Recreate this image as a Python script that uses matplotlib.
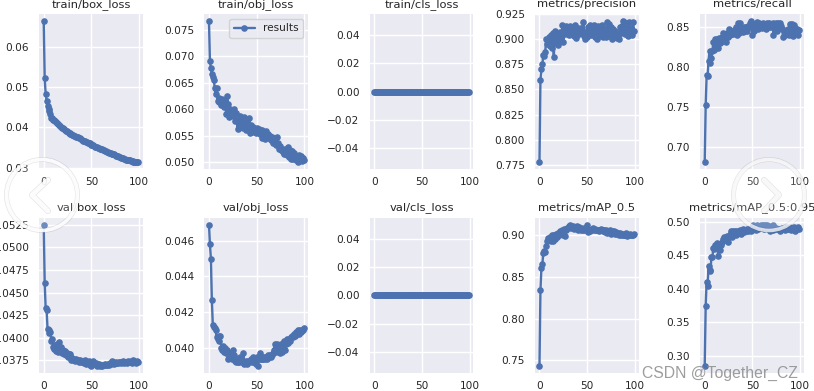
#!/usr/bin/env python3
"""
Training results grid (YOLO style), with the page watermark on top.
"""

import matplotlib
matplotlib.use("Agg")
import matplotlib.pyplot as plt
from matplotlib.patches import Circle
import numpy as np
import seaborn as sns

titles = [
    "train/box_loss", "train/obj_loss", "train/cls_loss", "metrics/precision", "metrics/recall",
    "val/box_loss", "val/obj_loss", "val/cls_loss", "metrics/mAP_0.5", "metrics/mAP_0.5:0.95",
]

epochs = np.arange(100)

train_box = [
    .0663, .0522, .0483, .0466, .0452, .0446, .0440, .0434, .0423, .0422,
    .0419, .0417, .0415, .0413, .0410, .0408, .0405, .0403, .0401, .0399,
    .0397, .0395, .0393, .0392, .0390, .0388, .0387, .0385, .0384, .0383,
    .0381, .0380, .0379, .0378, .0377, .0376, .0375, .0374, .0373, .0370,
    .0368, .0367, .0366, .0365, .0364, .0363, .0362, .0361, .0360, .0358,
    .0357, .0356, .0355, .0353, .0352, .0351, .0350, .0349, .0348, .0347,
    .0346, .0345, .0344, .0343, .0342, .0341, .0340, .0338, .0337, .0336,
    .0336, .0335, .0334, .0334, .0333, .0332, .0330, .0329, .0328, .0327,
    .0326, .0325, .0324, .0323, .0322, .0321, .0320, .0320, .0319, .0318,
    .0318, .0317, .0316, .0316, .0315, .0315, .0314, .0314, .0313, .0313,
]
train_obj = [
    .0767, .0691, .0678, .0666, .0660, .0655, .0641, .0629, .0640, .0615,
    .0622, .0613, .0618, .0608, .0620, .0612, .0605, .0615, .0590, .0624,
    .0610, .0585, .0601, .0596, .0598, .0587, .0600, .0578, .0592, .0580,
    .0562, .0575, .0587, .0570, .0583, .0572, .0565, .0585, .0570, .0560,
    .0578, .0565, .0583, .0555, .0570, .0556, .0566, .0558, .0560, .0555,
    .0565, .0558, .0562, .0552, .0557, .0560, .0545, .0556, .0550, .0543,
    .0558, .0548, .0553, .0545, .0550, .0542, .0548, .0535, .0545, .0540,
    .0532, .0548, .0535, .0525, .0530, .0522, .0525, .0518, .0520, .0515,
    .0525, .0517, .0513, .0528, .0510, .0522, .0506, .0520, .0505, .0516,
    .0512, .0503, .0510, .0499, .0513, .0505, .0511, .0502, .0507, .0503,
]
train_cls = [0.0] * 100
precision = [
    .7775, .8595, .870, .875, .884, .883, .887, .900, .895, .899,
    .902, .893, .904, .891, .906, .882, .908, .896, .905, .894,
    .903, .898, .907, .900, .914, .897, .911, .905, .913, .908,
    .912, .904, .913, .906, .910, .912, .903, .914, .901, .908,
    .911, .905, .910, .911, .907, .909, .917, .903, .900, .907,
    .902, .912, .906, .914, .904, .909, .905, .914, .902, .910,
    .900, .913, .905, .909, .903, .914, .902, .911, .903, .908,
    .902, .917, .903, .915, .906, .912, .900, .910, .902, .908,
    .905, .901, .903, .900, .912, .906, .913, .918, .908, .917,
    .905, .916, .909, .903, .917, .906, .911, .904, .917, .908,
]
recall = [
    .680, .752, .790, .789, .808, .820, .805, .811, .820, .832,
    .822, .835, .828, .836, .824, .837, .830, .832, .838, .843,
    .835, .842, .832, .843, .838, .848, .840, .845, .843, .846,
    .842, .847, .844, .850, .841, .856, .843, .855, .845, .848,
    .844, .851, .845, .850, .846, .852, .850, .856, .858, .852,
    .840, .854, .845, .852, .850, .857, .848, .855, .850, .853,
    .849, .856, .851, .854, .848, .856, .850, .855, .851, .853,
    .850, .855, .841, .852, .847, .856, .846, .855, .850, .856,
    .852, .848, .838, .847, .840, .846, .843, .848, .841, .854,
    .846, .854, .839, .853, .843, .849, .844, .848, .840, .847,
]
val_box = [
    .0525, .0461, .0433, .0431, .0410, .0409, .0405, .0407, .0397, .0399,
    .0390, .0388, .0392, .0385, .0393, .0384, .0395, .0386, .0390, .0383,
    .0387, .0382, .0385, .0381, .0383, .0379, .0382, .0380, .0382, .0376,
    .0378, .0375, .0377, .0374, .0377, .0375, .0376, .0373, .0375, .0373,
    .0374, .0373, .0372, .0375, .0371, .0373, .0372, .0374, .0370, .0372,
    .0369, .0372, .0374, .0372, .0371, .0372, .0369, .0370, .0371, .0369,
    .0370, .0369, .0370, .0370, .0371, .0370, .0370, .0371, .0370, .0372,
    .0371, .0374, .0372, .0373, .0371, .0372, .0373, .0372, .0372, .0373,
    .0373, .0372, .0373, .0374, .0372, .0373, .0373, .0372, .0374, .0373,
    .0373, .0374, .0372, .0374, .0375, .0373, .0373, .0372, .0374, .0373,
]
val_obj = [
    .0469, .0458, .0450, .0427, .0413, .0412, .0411, .0410, .0406, .0405,
    .0407, .0404, .0407, .0400, .0399, .0401, .0398, .0400, .0397, .0399,
    .0394, .0396, .0395, .0397, .0394, .0399, .0396, .0393, .0392, .0394,
    .0392, .0392, .0395, .0393, .0394, .0392, .0397, .0391, .0392, .0393,
    .0391, .0393, .0392, .0393, .0394, .0392, .0395, .0392, .0393, .0391,
    .0395, .0390, .0394, .0397, .0394, .0395, .0394, .0394, .0395, .0394,
    .0395, .0394, .0396, .0395, .0396, .0395, .0396, .0397, .0399, .0402,
    .0398, .0402, .0399, .0401, .0397, .0402, .0398, .0403, .0400, .0404,
    .0399, .0402, .0405, .0403, .0405, .0404, .0406, .0407, .0406, .0408,
    .0407, .0409, .0408, .0410, .0408, .0410, .0409, .0410, .0410, .0411,
]
val_cls = [0.0] * 100
map50 = [
    .7435, .8335, .860, .8645, .878, .881, .879, .886, .892, .896,
    .894, .897, .893, .899, .892, .900, .895, .901, .897, .902,
    .899, .902, .904, .903, .906, .899, .907, .898, .906, .908,
    .908, .910, .911, .908, .909, .910, .907, .909, .908, .910,
    .906, .909, .907, .906, .908, .907, .906, .908, .906, .907,
    .912, .903, .906, .904, .905, .907, .908, .905, .907, .906,
    .905, .906, .904, .906, .907, .905, .906, .904, .905, .903,
    .905, .902, .904, .903, .905, .901, .904, .902, .904, .901,
    .903, .901, .902, .900, .902, .899, .901, .900, .899, .901,
    .899, .902, .898, .900, .899, .901, .899, .900, .900, .901,
]
map95 = [
    .285, .375, .411, .405, .434, .428, .427, .447, .447, .461,
    .459, .465, .462, .469, .449, .467, .458, .466, .470, .475,
    .478, .474, .473, .479, .470, .477, .480, .484, .487, .478,
    .487, .482, .486, .481, .487, .483, .484, .488, .482, .487,
    .489, .485, .488, .486, .489, .487, .489, .490, .486, .488,
    .492, .496, .489, .493, .488, .495, .490, .494, .491, .496,
    .493, .495, .490, .496, .493, .495, .490, .494, .486, .492,
    .490, .495, .488, .492, .489, .491, .490, .489, .490, .487,
    .490, .491, .489, .491, .488, .492, .491, .489, .490, .493,
    .488, .491, .489, .492, .490, .487, .491, .490, .492, .490,
]

series = [train_box, train_obj, train_cls, precision, recall,
          val_box, val_obj, val_cls, map50, map95]

W, H = 814, 391
SCALE = 0.69  # the picture is a 12 inch figure shrunk to 814 px

sns.set_theme(style="darkgrid", font_scale=SCALE)

fig, axes = plt.subplots(2, 5, figsize=(W / 100, H / 100), dpi=100)
fig.subplots_adjust(left=39 / W, right=804 / W, top=1 - 14 / H, bottom=1 - 373 / H,
                    wspace=0.589, hspace=0.309)

for ax, title, values in zip(axes.ravel(), titles, series):
    ax.plot(epochs, values, marker=".", linewidth=1.7, markersize=7.5,
            label="results", color="#4c72b0")
    ax.set_title(title, fontsize=12 * SCALE, pad=5.2)
    ax.tick_params(axis="y", pad=1.2)
    ax.tick_params(axis="x", length=0, pad=5.6)
    for side in ax.spines.values():
        side.set_visible(False)

axes[0, 1].legend(loc="upper right", fontsize=11 * SCALE)

# watermark layer, in pixels
overlay = fig.add_axes([0, 0, 1, 1], zorder=10)
overlay.set_xlim(0, W)
overlay.set_ylim(H, 0)
overlay.axis("off")
overlay.patch.set_alpha(0)

for cx, tip_x, back_x, alpha in [(42, 32, 48, 0.9), (769, 779, 764, 0.75)]:
    # faint grey shadow so the white ring still shows on the white page
    overlay.add_patch(Circle((cx, 195), 35.5, fill=False, edgecolor=(0, 0, 0, 0.10), linewidth=3.6))
    overlay.plot([back_x, tip_x, back_x], [180, 195, 211], color="black", alpha=0.10,
                 linewidth=4.4, solid_capstyle="round", solid_joinstyle="round")
    overlay.add_patch(Circle((cx, 195), 35.5, facecolor=(1, 1, 1, 0.18),
                             edgecolor=(1, 1, 1, alpha), linewidth=2.6))
    overlay.plot([back_x, tip_x, back_x], [180, 195, 211], color="white", alpha=alpha,
                 linewidth=3.4, solid_capstyle="round", solid_joinstyle="round")

overlay.text(798, 378, "CSDN @Together_CZ", ha="right", va="baseline", fontsize=11.3,
             color="#8c8c8c", alpha=0.85, family="Liberation Sans")

fig.savefig("out.png", dpi=100)
plt.close(fig)
